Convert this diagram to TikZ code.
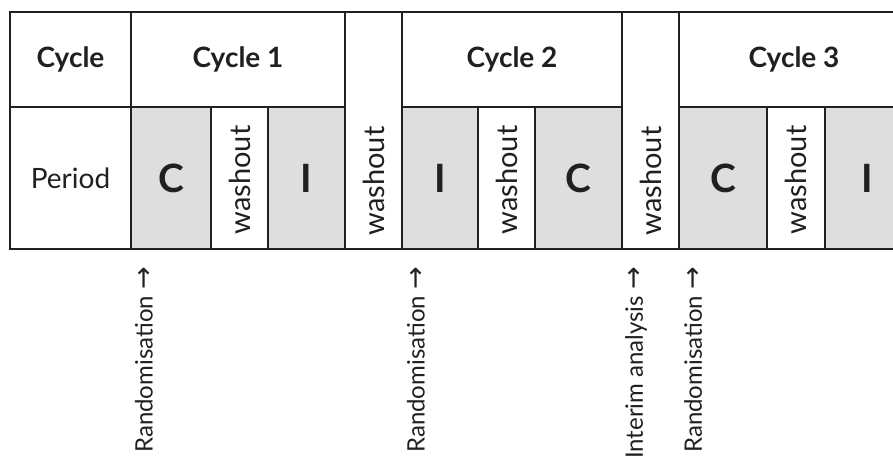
\documentclass[tikz,border=0pt]{standalone}
\usepackage{fontspec}
\setmainfont{Lato}
\newfontfamily\arrowfont{DejaVu Sans}
\definecolor{ink}{RGB}{35,31,32}
\definecolor{cellgray}{RGB}{221,222,224}
\begin{document}
\begin{tikzpicture}[x=1pt,y=-1pt,
  cell/.style={draw=ink, line width=1.8pt, inner sep=0pt, outer sep=0pt,
    anchor=north west, text=ink},
  drug/.style={cell, fill=cellgray, font=\fontsize{39}{44}\selectfont\bfseries},
  rest/.style={cell, fill=white},
  head/.style={cell, fill=white, font=\fontsize{28}{32}\selectfont\bfseries},
  vlabel/.style={rotate=90, text=ink, font=\fontsize{29}{32}\selectfont},
  timepoint/.style={rotate=90, anchor=east, text=ink, inner sep=0pt,
    font=\fontsize{24}{28}\selectfont}]
\useasboundingbox (0,0) rectangle (893,455);
\clip (0,0) rectangle (893,455);
\fill[white] (0,0) rectangle (893,455);

% header row
\node[head, minimum width=121pt, minimum height=95pt] (hc) at (10,12) {Cycle};
\node[head, minimum width=214pt, minimum height=95pt] (c1) at (131,12) {Cycle 1};
\node[head, minimum width=220pt, minimum height=95pt] (c2) at (402,12) {Cycle 2};
\node[head, minimum width=230pt, minimum height=95pt] (c3) at (679,12) {Cycle 3};

% washouts between cycles, spanning both rows
\node[rest, minimum width=57pt, minimum height=237pt] (w12) at (345,12) {};
\node[rest, minimum width=57pt, minimum height=237pt] (w23) at (622,12) {};
\node[vlabel] at (373.5,181) {washout};
\node[vlabel] at (650.5,181) {washout};

% period row
\node[rest, minimum width=121pt, minimum height=142pt,
  font=\fontsize{28}{32}\selectfont] (per) at (10,107) {Period};
\node[drug, minimum width=80pt, minimum height=142pt] (p1) at (131,107) {C};
\node[rest, minimum width=57pt, minimum height=142pt] (wa) at (211,107) {};
\node[drug, minimum width=77pt, minimum height=142pt] (p2) at (268,107) {I};
\node[drug, minimum width=76pt, minimum height=142pt] (p3) at (402,107) {I};
\node[rest, minimum width=57pt, minimum height=142pt] (wb) at (478,107) {};
\node[drug, minimum width=87pt, minimum height=142pt] (p4) at (535,107) {C};
\node[drug, minimum width=88pt, minimum height=142pt] (p5) at (679,107) {C};
\node[rest, minimum width=58pt, minimum height=142pt] (wc) at (767,107) {};
\node[drug, minimum width=84pt, minimum height=142pt] (p6) at (825,107) {I};
\node[vlabel] at ([yshift=-2pt]wa.center) {washout};
\node[vlabel] at ([yshift=-2pt]wb.center) {washout};
\node[vlabel] at ([yshift=-2pt]wc.center) {washout};

% time points below the table
\node[timepoint] (r1) at (144,267) {Randomisation {\arrowfont\fontsize{27}{28}\selectfont →}};
\node[timepoint] (r2) at (416,267) {Randomisation {\arrowfont\fontsize{27}{28}\selectfont →}};
\node[timepoint] (ia) at (636,267) {Interim analysis {\arrowfont\fontsize{27}{28}\selectfont →}};
\node[timepoint] (r3) at (693,267) {Randomisation {\arrowfont\fontsize{27}{28}\selectfont →}};
\end{tikzpicture}
\end{document}
